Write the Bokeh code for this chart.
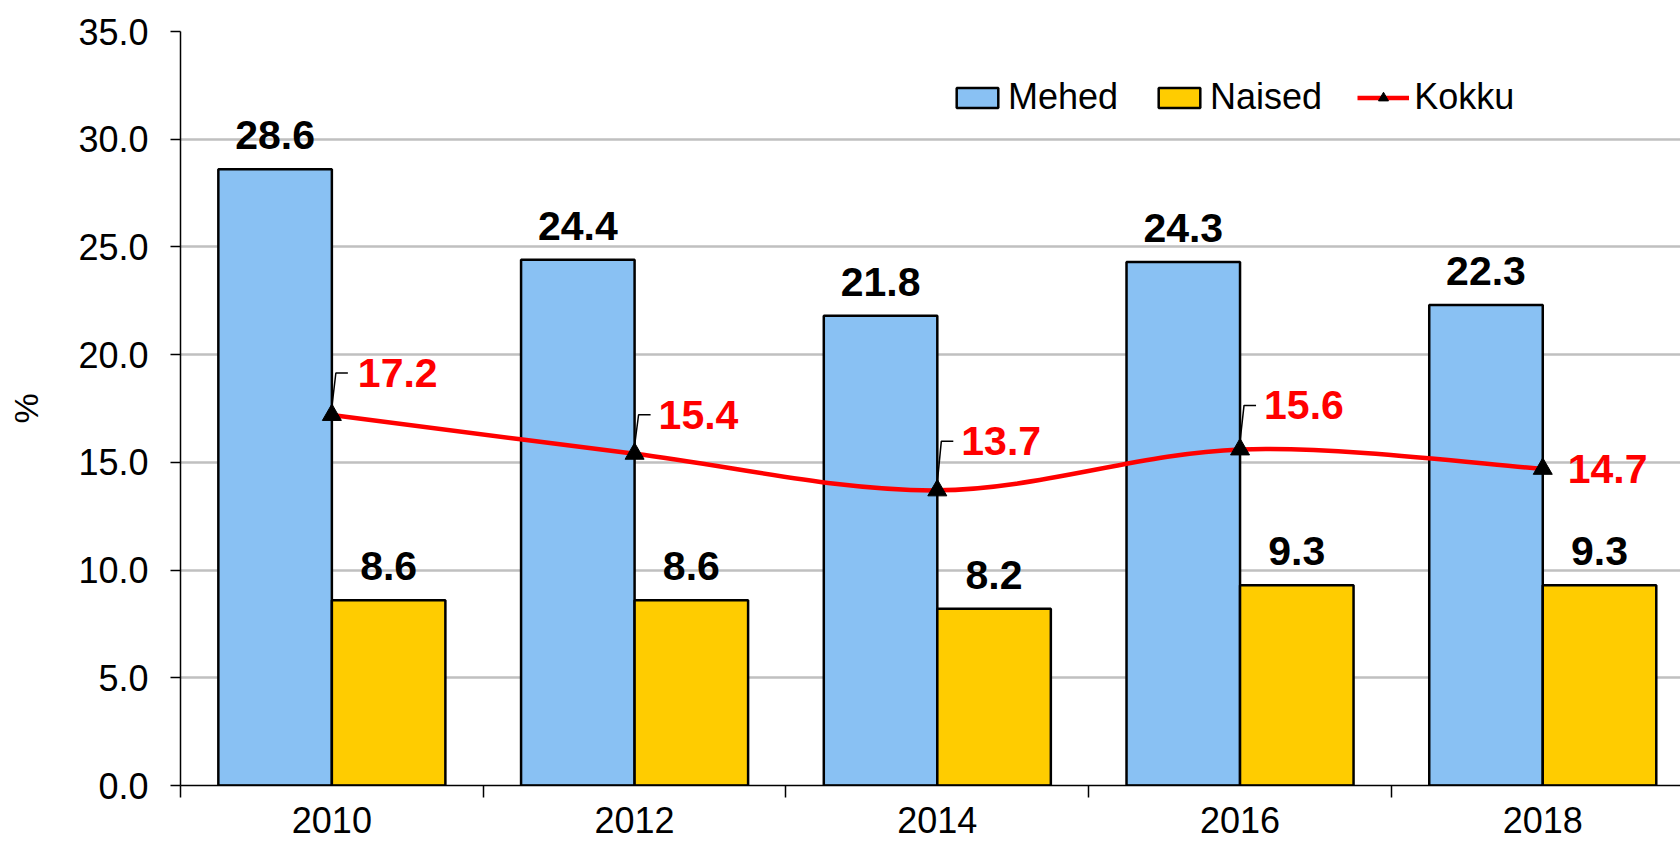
from bokeh.plotting import figure
from bokeh.models import (ColumnDataSource, LabelSet, FixedTicker, Legend, LegendItem,
                          Range1d, NumeralTickFormatter)
from bokeh.core.properties import value
from bokeh.transform import dodge
from bokeh.embed import file_html
from bokeh.resources import INLINE

# ---- data ----
years = ["2010", "2012", "2014", "2016", "2018"]
mehed = [28.6, 24.4, 21.8, 24.3, 22.3]
naised = [8.6, 8.6, 8.2, 9.3, 9.3]
kokku = [17.2, 15.4, 13.7, 15.6, 14.7]
y_ticks = [0, 5, 10, 15, 20, 25, 30, 35]

# ---- layout / style ----
FONT = "Liberation Sans"
W, H = 1680, 844
BL, BR, BT, BB = 180, 0, 31, 59
X0, X1 = -0.5, 4.455
Y0, Y1 = 0, 35
BAR_W = 0.375
BLUE = "#89C1F3"
GOLD = "#FFCC00"
RED = "#FF0000"

ppx = (W - BL - BR) / (X1 - X0)
ppy = (H - BT - BB) / (Y1 - Y0)

xc = list(range(len(years)))

p = figure(width=W, height=H, output_backend="svg", toolbar_location=None,
           x_range=Range1d(X0, X1), y_range=Range1d(Y0, Y1),
           min_border_left=BL, min_border_right=BR, min_border_top=BT, min_border_bottom=BB)
p.outline_line_color = None
p.background_fill_color = "white"
p.border_fill_color = "white"

# grid
p.xgrid.grid_line_color = None
p.ygrid.ticker = FixedTicker(ticks=y_ticks)
p.ygrid.grid_line_color = "#C0C0C0"
p.ygrid.grid_line_width = 2.5

# y axis
ya = p.yaxis[0]
ya.ticker = FixedTicker(ticks=y_ticks)
ya.formatter = NumeralTickFormatter(format="0.0")
ya.axis_line_color = "black"
ya.axis_line_width = 1.5
ya.major_tick_line_color = "black"
ya.major_tick_line_width = 1.5
ya.major_tick_out = 10
ya.major_tick_in = 0
ya.minor_tick_line_color = None
ya.major_label_standoff = 22
ya.major_label_text_font = FONT
ya.major_label_text_font_size = "36px"
ya.major_label_text_color = "black"
ya.axis_label = "%"
ya.axis_label_text_font = FONT
ya.axis_label_text_font_size = "34px"
ya.axis_label_text_font_style = "normal"
ya.axis_label_text_color = "black"
ya.axis_label_standoff = 30

# x axis: labels at category centres, tick marks at category boundaries
xa = p.xaxis[0]
xa.ticker = FixedTicker(ticks=xc, minor_ticks=[i - 0.5 for i in range(len(years) + 1)])
xa.major_label_overrides = {i: y for i, y in zip(xc, years)}
xa.axis_line_color = "black"
xa.axis_line_width = 1.5
xa.major_tick_line_color = None
xa.major_tick_out = 0
xa.major_tick_in = 0
xa.minor_tick_line_color = "black"
xa.minor_tick_line_width = 1.5
xa.minor_tick_out = 12
xa.minor_tick_in = 0
xa.major_label_standoff = 9
xa.major_label_text_font = FONT
xa.major_label_text_font_size = "36px"
xa.major_label_text_color = "black"

# bars
src = ColumnDataSource(dict(
    x=xc, year=years, mehed=mehed, naised=naised,
    mehed_lbl=[f"{v:.1f}" for v in mehed],
    naised_lbl=[f"{v:.1f}" for v in naised],
))
r_m = p.vbar(x=dodge("x", -BAR_W / 2, range=p.x_range), top="mehed", bottom=0, width=BAR_W,
             source=src, fill_color=BLUE, line_color="black", line_width=2.5)
r_n = p.vbar(x=dodge("x", BAR_W / 2, range=p.x_range), top="naised", bottom=0, width=BAR_W,
             source=src, fill_color=GOLD, line_color="black", line_width=2.5)

# smooth total line (Catmull-Rom bezier through the data points)
n = len(kokku)
bx0, by0, bx1, by1, cx0, cy0, cx1, cy1 = [], [], [], [], [], [], [], []
for i in range(n - 1):
    pm = (xc[max(i - 1, 0)], kokku[max(i - 1, 0)])
    p0 = (xc[i], kokku[i])
    p3 = (xc[i + 1], kokku[i + 1])
    pp = (xc[min(i + 2, n - 1)], kokku[min(i + 2, n - 1)])
    bx0.append(p0[0]); by0.append(p0[1]); bx1.append(p3[0]); by1.append(p3[1])
    cx0.append(p0[0] + (p3[0] - pm[0]) / 6); cy0.append(p0[1] + (p3[1] - pm[1]) / 6)
    cx1.append(p3[0] - (pp[0] - p0[0]) / 6); cy1.append(p3[1] - (pp[1] - p0[1]) / 6)
p.bezier(x0=bx0, y0=by0, x1=bx1, y1=by1, cx0=cx0, cy0=cy0, cx1=cx1, cy1=cy1,
         line_color=RED, line_width=4.5)
# single-point line used only for the legend swatch
r_leg_line = p.line(x=xc[:1], y=kokku[:1], line_color=RED, line_width=4.5)

# leader lines for total labels
lab_dx = [26, 24, 24, 24, 25]
lab_dy = [42, 39, 49, 44, 0]
lxs, lys = [], []
for i in range(n):
    if lab_dy[i] == 0:
        continue
    x, y = xc[i], kokku[i]
    lxs.append([x, x + 4 / ppx, x + 16 / ppx])
    lys.append([y + 8 / ppy, y + lab_dy[i] / ppy, y + lab_dy[i] / ppy])
p.multi_line(xs=lxs, ys=lys, line_color="black", line_width=1.5)

ksrc = ColumnDataSource(dict(x=xc, y=kokku, lbl=[f"{v:.1f}" for v in kokku],
                             dx=lab_dx, dy=lab_dy))
r_tri = p.scatter(x="x", y="y", source=ksrc, marker="triangle", size=19,
                  fill_color="black", line_color="black")

# data labels
p.add_layout(LabelSet(x=dodge("x", -BAR_W / 2, range=p.x_range), y="mehed", text="mehed_lbl",
                      source=src, y_offset=20, text_align="center", text_baseline="alphabetic",
                      text_font=value(FONT), text_font_size="41px", text_font_style="bold",
                      text_color="black"))
p.add_layout(LabelSet(x=dodge("x", BAR_W / 2, range=p.x_range), y="naised", text="naised_lbl",
                      source=src, y_offset=20, text_align="center", text_baseline="alphabetic",
                      text_font=value(FONT), text_font_size="41px", text_font_style="bold",
                      text_color="black"))
p.add_layout(LabelSet(x="x", y="y", text="lbl", source=ksrc, x_offset="dx", y_offset="dy",
                      text_align="left", text_baseline="middle",
                      text_font=value(FONT), text_font_size="41px", text_font_style="bold",
                      text_color=RED))

# legend
legend = Legend(items=[LegendItem(label="Mehed", renderers=[r_m]),
                       LegendItem(label="Naised", renderers=[r_n]),
                       LegendItem(label="Kokku", renderers=[r_leg_line, r_tri])],
                orientation="horizontal", location=(771, 667),
                border_line_color=None, background_fill_alpha=0,
                padding=0, margin=0, spacing=35, label_standoff=5,
                glyph_width=52, glyph_height=25,
                label_text_font=FONT, label_text_font_size="36px",
                label_text_color="black", label_text_baseline="middle")
p.add_layout(legend)

open("out.html", "w").write(file_html(p, INLINE))
